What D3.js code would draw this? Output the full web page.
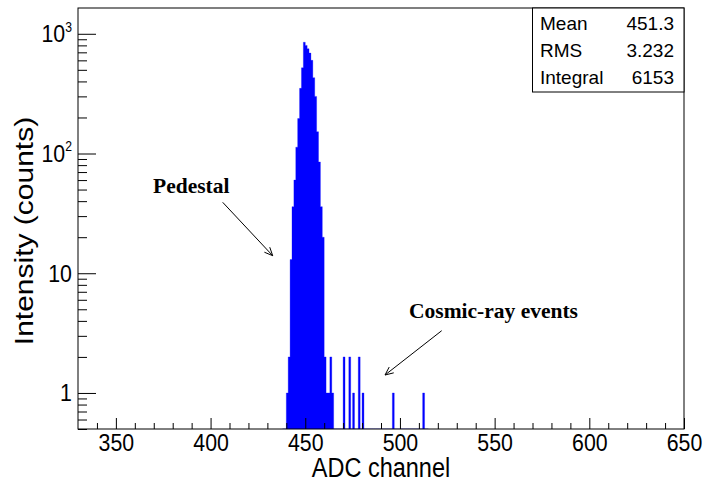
<!DOCTYPE html>
<html>
<head>
<meta charset="utf-8">
<script src="https://cdn.jsdelivr.net/npm/d3@7"></script>
<style>
  html, body { margin: 0; padding: 0; background: #fff; }
  svg { display: block; }
</style>
</head>
<body>
<svg id="chart" width="703" height="484"></svg>
<script>
// ---------------- data ----------------
const peakChannels = [440,441,442,443,444,445,446,447,448,449,450,451,452,453,454,455,456,457,458,459,460,461,462,463,464];
const peakCounts   = [1,2,13,36,60,113,196,350,520,850,800,750,690,600,430,300,152,85,36,20,2,1,1,2,1];
const cosmicChannels = [470,473,475,478,480,496,512];
const cosmicCounts   = [2,2,1,2,1,1,1];

const xMajorTicks = [350,400,450,500,550,600,650];
const xMinorTicks = [340,360,370,380,390,410,420,430,440,460,470,480,490,510,520,530,540,560,570,580,590,610,620,630,640];
const yMajorTicks = [1,10,100,1000];
const yTickBase   = ["1","10","10","10"];
const yTickExp    = ["","","2","3"];

const statNames  = ["Mean","RMS","Integral"];
const statValues = ["451.3","3.232","6153"];

const xTitle = "ADC channel";
const yTitle = "Intensity (counts)";
const annotations = [
  {text: "Pedestal", tx: 153, ty: 193, x1: 222.7, y1: 202.3, x2: 272.7, y2: 255.7},
  {text: "Cosmic-ray events", tx: 409, ty: 318, x1: 441.7, y1: 330.7, x2: 385, y2: 375}
];

// ---------------- layout ----------------
const L = 78, R = 684, T = 8, B = 429;
const svg = d3.select("#chart");

const x = d3.scaleLinear().domain([330, 650]).range([L, R]);
const y = d3.scaleLog().domain([0.5, 1642]).range([B, T]);

// histogram array
const counts = new Map();
peakChannels.forEach((c, i) => counts.set(c, peakCounts[i]));
cosmicChannels.forEach((c, i) => counts.set(c, cosmicCounts[i]));
const hist = [];
for (let c = 438; c <= 515; c++) hist.push({lo: c, n: counts.get(c) || 0});

svg.append("defs").append("clipPath").attr("id", "clip")
  .append("rect").attr("x", L).attr("y", T).attr("width", R - L).attr("height", B - T);

const area = d3.area()
  .x(d => x(d.lo))
  .y0(B)
  .y1(d => d.n > 0 ? y(d.n) : B)
  .curve(d3.curveStepAfter);

svg.append("path")
  .datum(hist)
  .attr("clip-path", "url(#clip)")
  .attr("d", area)
  .attr("fill", "#0000ff")
  .attr("stroke", "#0000ff")
  .attr("stroke-width", 0.3);

// ---------------- axes ----------------
const labelFont = "Liberation Sans, Arial, Helvetica, sans-serif";
const sx = 0.87;

const xAxis = svg.append("g").attr("transform", `translate(0,${B})`)
  .call(d3.axisBottom(x).tickValues(xMajorTicks).tickSize(-11).tickSizeOuter(0).tickPadding(5).tickFormat(d3.format("d")));
xAxis.select(".domain").remove();
xAxis.selectAll("line").attr("stroke", "#000");
xAxis.selectAll("text")
  .attr("font-family", labelFont).attr("font-size", 24.5).attr("fill", "#000")
  .attr("transform", `scale(${sx},1)`);

const xAxisMinor = svg.append("g").attr("transform", `translate(0,${B})`)
  .call(d3.axisBottom(x).tickValues(xMinorTicks).tickSize(-6).tickSizeOuter(0).tickFormat(""));
xAxisMinor.select(".domain").remove();
xAxisMinor.selectAll("line").attr("stroke", "#000");

const yAxis = svg.append("g").attr("transform", `translate(${L},0)`)
  .call(d3.axisLeft(y).tickValues(yMajorTicks).tickSize(-18).tickSizeOuter(0).tickPadding(7).tickFormat(""));
yAxis.select(".domain").remove();
yAxis.selectAll("line").attr("stroke", "#000");
yAxis.selectAll(".tick").each(function(d, i) {
  const t = d3.select(this).select("text")
    .attr("font-family", labelFont).attr("font-size", 24.5).attr("fill", "#000")
    .attr("transform", `scale(${sx},1)`);
  t.text(null);
  t.append("tspan").text(yTickBase[i]);
  if (yTickExp[i]) {
    t.append("tspan").attr("font-size", 14).attr("dy", "-0.75em").text(yTickExp[i]);
  }
});

const yMinor = [];
[0.1, 1, 10, 100, 1000].forEach(dec => {
  for (let m = 2; m <= 9; m++) {
    const v = m * dec;
    if (v >= 0.5 && v <= 1642) yMinor.push(v);
  }
});
const yAxisMinor = svg.append("g").attr("transform", `translate(${L},0)`)
  .call(d3.axisLeft(y).tickValues(yMinor).tickSize(-9).tickSizeOuter(0).tickFormat(""));
yAxisMinor.select(".domain").remove();
yAxisMinor.selectAll("line").attr("stroke", "#000");

// frame
svg.append("rect").attr("x", L).attr("y", T).attr("width", R - L).attr("height", B - T)
  .attr("fill", "none").attr("stroke", "#000").attr("stroke-width", 1);

// titles
svg.append("text")
  .attr("transform", `translate(${(L + R) / 2},476.5) scale(${sx},1)`)
  .attr("text-anchor", "middle")
  .attr("font-family", labelFont).attr("font-size", 27).attr("fill", "#000")
  .text(xTitle);

svg.append("text")
  .attr("transform", `translate(33,231) rotate(-90) scale(1,${sx})`)
  .attr("text-anchor", "middle")
  .attr("font-family", labelFont).attr("font-size", 30).attr("fill", "#000")
  .text(yTitle);

// ---------------- stats box ----------------
const box = svg.append("g");
box.append("rect").attr("x", 532.5).attr("y", T).attr("width", R - 532.5).attr("height", 84)
  .attr("fill", "#fff").attr("stroke", "#000").attr("stroke-width", 1);
statNames.forEach((n, i) => {
  box.append("text").attr("x", 540).attr("y", 29.5 + i * 27)
    .attr("font-family", labelFont).attr("font-size", 19).attr("fill", "#000").text(n);
  box.append("text").attr("x", 674).attr("y", 29.5 + i * 27).attr("text-anchor", "end")
    .attr("font-family", labelFont).attr("font-size", 19).attr("fill", "#000").text(statValues[i]);
});

// ---------------- annotations ----------------
annotations.forEach(a => {
  svg.append("text").attr("x", a.tx).attr("y", a.ty)
    .attr("font-family", "Liberation Serif, Times New Roman, serif")
    .attr("font-weight", "bold").attr("font-size", 21.5).attr("fill", "#000")
    .text(a.text);
  svg.append("line").attr("x1", a.x1).attr("y1", a.y1).attr("x2", a.x2).attr("y2", a.y2)
    .attr("stroke", "#000").attr("stroke-width", 1);
  const ang = Math.atan2(a.y2 - a.y1, a.x2 - a.x1);
  const len = 9, spread = 0.42;
  const p1 = [a.x2 - len * Math.cos(ang - spread), a.y2 - len * Math.sin(ang - spread)];
  const p2 = [a.x2 - len * Math.cos(ang + spread), a.y2 - len * Math.sin(ang + spread)];
  svg.append("path")
    .attr("d", `M${p1[0]},${p1[1]}L${a.x2},${a.y2}L${p2[0]},${p2[1]}`)
    .attr("fill", "none").attr("stroke", "#000").attr("stroke-width", 1);
});
</script>
</body>
</html>
